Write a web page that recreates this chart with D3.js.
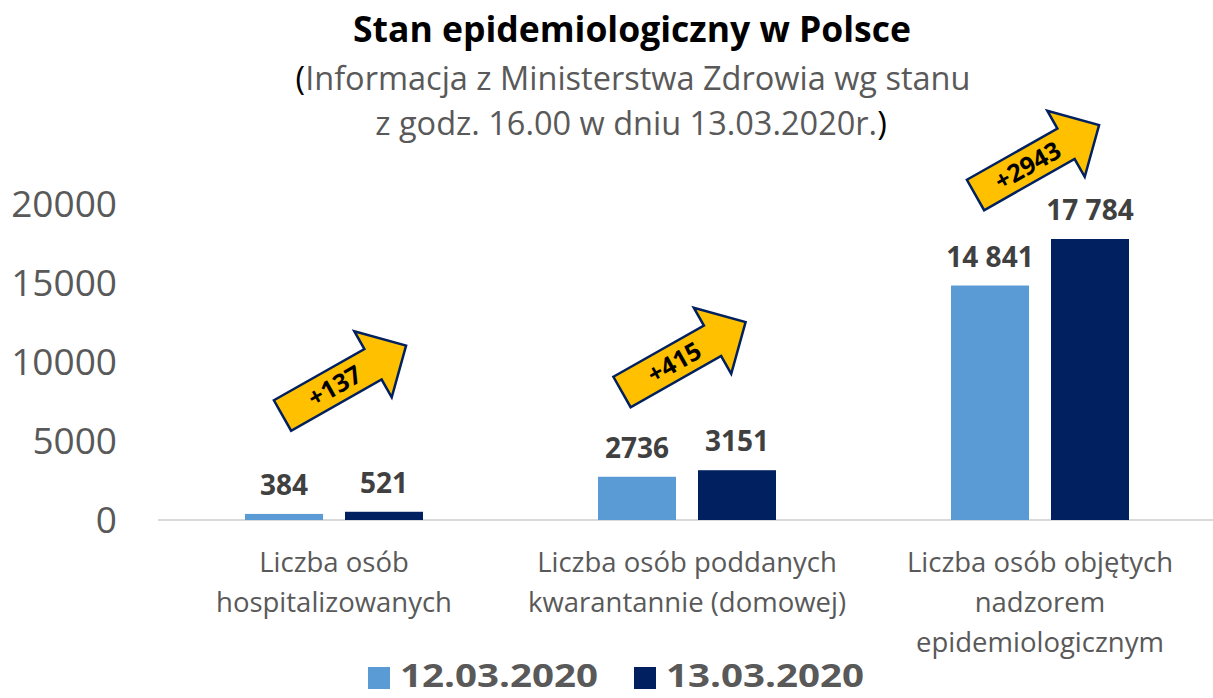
<!DOCTYPE html>
<html><head><meta charset="utf-8">
<script src="https://cdn.jsdelivr.net/npm/d3@7"></script>
<style>body{margin:0;background:#fff}svg{display:block}</style>
</head><body>
<svg id="c" width="1213" height="698"></svg>
<script>
const categories = [
  ["Liczba osób", "hospitalizowanych"],
  ["Liczba osób poddanych", "kwarantannie (domowej)"],
  ["Liczba osób objętych", "nadzorem", "epidemiologicznym"]
];
const seriesNames = ["12.03.2020", "13.03.2020"];
const values12 = [384, 2736, 14841];
const values13 = [521, 3151, 17784];
const labels12 = ["384", "2736", "14 841"];
const labels13 = ["521", "3151", "17 784"];
const deltas = ["+137", "+415", "+2943"];
const yTicks = [0, 5000, 10000, 15000, 20000];
const colors = ["#5B9BD5", "#002060"];

const svg = d3.select("#c");
const W = 1213;
const catIdx = categories.map((d, i) => i);
const x = d3.scaleBand().domain(catIdx).range([157.5, 1216.5]).padding(0);
const xs = d3.scaleBand().domain([0, 1]).range([-89, 89]).paddingInner(0.22).paddingOuter(0);
const y = d3.scaleLinear().domain([0, 20000]).range([520, 204]);
const font = "'Open Sans', sans-serif";

// title
svg.append("text").attr("x", 632).attr("y", 42).attr("text-anchor", "middle")
  .attr("font-family", font).attr("font-weight", "bold").attr("font-size", 35.5).attr("fill", "#000")
  .text("Stan epidemiologiczny w Polsce");
const st1 = svg.append("text").attr("x", 633).attr("y", 90).attr("text-anchor", "middle")
  .attr("font-family", font).attr("font-size", 32.5).attr("fill", "#595959");
st1.append("tspan").attr("fill", "#000").text("(");
st1.append("tspan").text("Informacja z Ministerstwa Zdrowia wg stanu");
const st2 = svg.append("text").attr("x", 631).attr("y", 135).attr("text-anchor", "middle")
  .attr("font-family", font).attr("font-size", 32.5).attr("fill", "#595959");
st2.append("tspan").text("z godz. 16.00 w dniu 13.03.2020r.");
st2.append("tspan").attr("fill", "#000").text(")");

// y axis labels
const yAxis = d3.axisLeft(y).tickValues(yTicks).tickSize(0).tickPadding(0).tickFormat(d3.format("d"));
const ga = svg.append("g").attr("transform", "translate(117,0)").call(yAxis);
ga.select(".domain").remove();
ga.selectAll("text").attr("font-family", font).attr("font-size", 37).attr("fill", "#595959").attr("dy", "0.35em");

// baseline
svg.append("line").attr("x1", 158).attr("x2", W).attr("y1", y(0)).attr("y2", y(0))
  .attr("stroke", "#D9D9D9").attr("stroke-width", 2);

// bars
const series = [values12, values13];
const labs = [labels12, labels13];
series.forEach((vals, s) => {
  svg.append("g").selectAll("rect").data(vals).join("rect")
    .attr("x", (d, i) => x(i) + x.bandwidth() / 2 + xs(s))
    .attr("width", xs.bandwidth())
    .attr("y", d => y(d))
    .attr("height", d => y(0) - y(d))
    .attr("fill", colors[s]);
  svg.append("g").selectAll("text").data(vals).join("text")
    .attr("x", (d, i) => x(i) + x.bandwidth() / 2 + xs(s) + xs.bandwidth() / 2)
    .attr("y", d => y(d) - 19)
    .attr("text-anchor", "middle")
    .attr("font-family", font).attr("font-weight", "bold").attr("font-size", 28).attr("fill", "#404040")
    .text((d, i) => labs[s][i]);
});

// category labels
categories.forEach((lines, i) => {
  const t = svg.append("text").attr("text-anchor", "middle")
    .attr("font-family", font).attr("font-size", 27.5).attr("fill", "#595959");
  lines.forEach((ln, j) => {
    t.append("tspan").attr("x", x(i) + x.bandwidth() / 2).attr("y", 572 + j * 40).text(ln);
  });
});

// arrows (annotations): tail centre offset from category centre, tail height in data units
const arrowAnchor = [[-51.5, 6614], [-65, 8101], [-64.5, 20570]];
const L = 142, sw = 35, hw = 76, hl = 38, ang = -29.5;
const arrowPath = `M0,${-sw/2} L${L-hl},${-sw/2} L${L-hl},${-hw/2} L${L},0 L${L-hl},${hw/2} L${L-hl},${sw/2} L0,${sw/2} Z`;
deltas.forEach((dl, i) => {
  const cx = x(i) + x.bandwidth() / 2 + arrowAnchor[i][0];
  const cy = y(arrowAnchor[i][1]);
  const g = svg.append("g").attr("transform", `translate(${cx},${cy}) rotate(${ang})`);
  g.append("path").attr("d", arrowPath).attr("fill", "#FFC000").attr("stroke", "#002060")
    .attr("stroke-width", 2.5).attr("stroke-linejoin", "miter");
  g.append("text").attr("x", 60).attr("y", 0).attr("dy", "0.36em").attr("text-anchor", "middle")
    .attr("font-family", font).attr("font-weight", "bold").attr("font-size", 25).attr("fill", "#000")
    .text(dl);
});

// legend
const legX = [368, 634];
seriesNames.forEach((n, s) => {
  svg.append("rect").attr("x", legX[s]).attr("y", 667).attr("width", 22).attr("height", 22).attr("fill", colors[s]);
  svg.append("text").attr("x", legX[s] + 32).attr("y", 687)
    .attr("font-family", font).attr("font-weight", "bold").attr("font-size", 33)
    .attr("textLength", 198).attr("lengthAdjust", "spacingAndGlyphs").attr("fill", "#595959")
    .text(n);
});
</script>
</body></html>
